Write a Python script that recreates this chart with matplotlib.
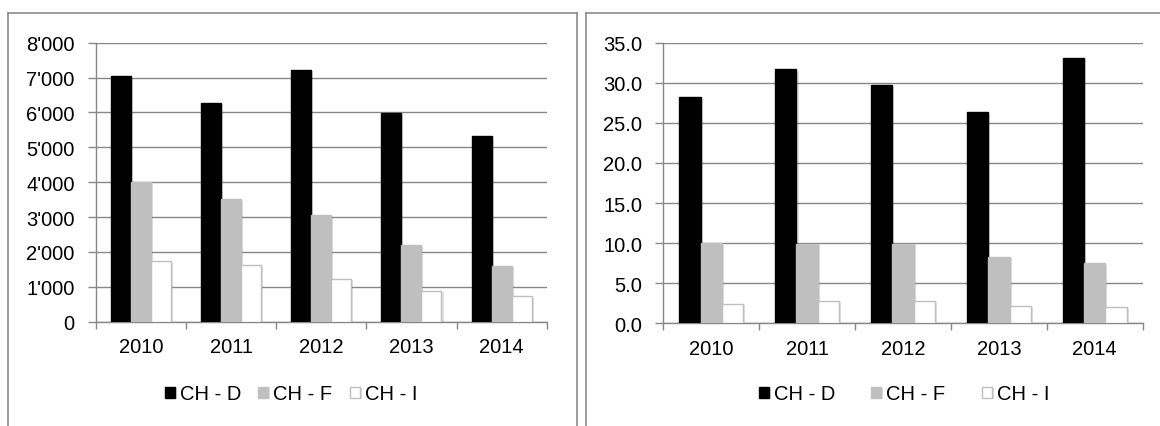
import numpy as np
import matplotlib
matplotlib.use('Agg')
import matplotlib.pyplot as plt
import matplotlib.patheffects as pe
from matplotlib.lines import Line2D
from matplotlib.ticker import FuncFormatter

plt.rcParams['font.family'] = ['Liberation Sans', 'DejaVu Sans']

years = ['2010', '2011', '2012', '2013', '2014']
series = ['CH - D', 'CH - F', 'CH - I']

# left chart: absolute numbers
left_d = [7040, 6260, 7230, 5990, 5330]
left_f = [4000, 3510, 3070, 2200, 1600]
left_i = [1730, 1640, 1230, 880, 730]

# right chart: values with one decimal
right_d = [28.2, 31.7, 29.7, 26.3, 33.1]
right_f = [10.0, 9.9, 9.9, 8.3, 7.5]
right_i = [2.4, 2.8, 2.8, 2.15, 2.0]

colors = ['#000000', '#BFBFBF', '#FFFFFF']
edges = ['#000000', '#BFBFBF', '#BFBFBF']
grid_c = '#878787'
fs = 14.5

W, H = 1160, 427
fig = plt.figure(figsize=(W / 100, H / 100), dpi=100)

ax1 = fig.add_axes([95.7 / W, 1 - 322.7 / H, (546.7 - 95.7) / W, (322.7 - 43.7) / H])
ax2 = fig.add_axes([663.3 / W, 1 - 324.3 / H, (1142.7 - 663.3) / W, (324.3 - 43.7) / H])

x = np.arange(len(years))
bw = 0.222
shadow = [pe.SimplePatchShadow(offset=(1.5, -1.0), shadow_rgbFace='#000000', alpha=0.12), pe.Normal()]


def draw(ax, data, ymax, step, fmt):
    handles = []
    for k, vals in enumerate(data):
        b = ax.bar(x + (k - 1) * bw, vals, bw, color=colors[k], edgecolor=edges[k],
                   linewidth=1.0, label=series[k], zorder=3)
        for p in b:
            p.set_path_effects(shadow)
        handles.append(b)
    ax.set_xlim(-0.5, len(years) - 0.5)
    ax.set_ylim(0, ymax)
    ax.set_yticks(np.arange(0, ymax + step / 2, step))
    ax.yaxis.set_major_formatter(FuncFormatter(fmt))
    ax.set_xticks(x)
    ax.set_xticklabels(years)
    ax.set_xticks(np.arange(-0.5, len(years)), minor=True)
    ax.tick_params(axis='x', which='major', length=0, pad=11, labelsize=fs)
    ax.tick_params(axis='x', which='minor', length=5, width=1.0, color=grid_c)
    ax.tick_params(axis='y', length=6, width=1.0, color=grid_c, pad=9, labelsize=fs)
    ax.yaxis.grid(True, color=grid_c, linewidth=1.0)
    ax.set_axisbelow(True)
    for s in ['top', 'right']:
        ax.spines[s].set_visible(False)
    for s in ['left', 'bottom']:
        ax.spines[s].set_color(grid_c)
        ax.spines[s].set_linewidth(1.0)
    return handles


h1 = draw(ax1, [left_d, left_f, left_i], 8000, 1000,
          lambda v, p: f"{int(round(v)):,}".replace(',', "'"))
h2 = draw(ax2, [right_d, right_f, right_i], 35, 5, lambda v, p: f"{v:.1f}")

leg_kw = dict(loc='center', frameon=False, ncol=3, fontsize=fs,
              handlelength=0.5, handleheight=0.5, handletextpad=0.25)
fig.legend(h1, series, bbox_to_anchor=(291 / W, 1 - 395 / H), columnspacing=0.85, **leg_kw)
fig.legend(h2, series, bbox_to_anchor=(904 / W, 1 - 395 / H), columnspacing=1.8, **leg_kw)

# chart area borders
bc = '#8C8C8C'
top = 1 - 14.3 / H
for xs, ys in [([8 / W, 8 / W], [0, top]),
               ([8 / W, 576.7 / W], [top, top]),
               ([576.7 / W, 576.7 / W], [top, 0]),
               ([586 / W, 586 / W], [0, top]),
               ([586 / W, 1], [top, top])]:
    fig.add_artist(Line2D(xs, ys, color=bc, linewidth=1.2, transform=fig.transFigure))

fig.savefig('out.png', dpi=100)
